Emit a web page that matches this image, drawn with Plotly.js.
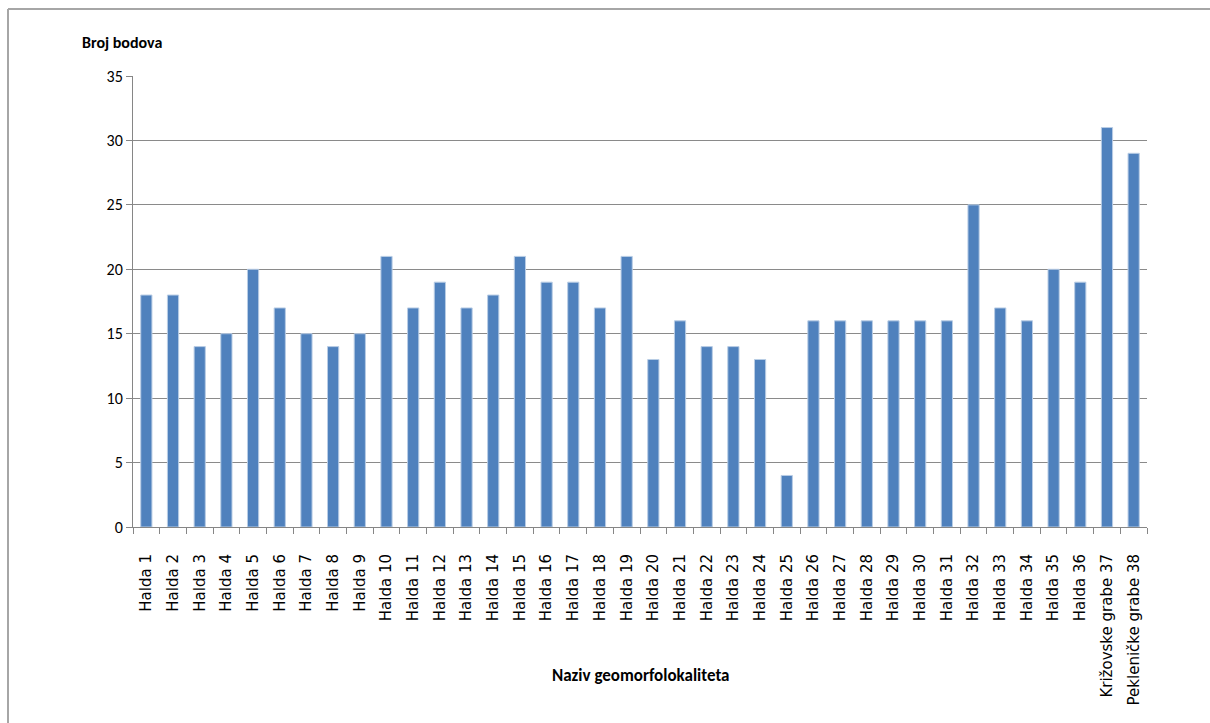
<!DOCTYPE html>
<html>
<head>
<meta charset="utf-8">
<script src="https://cdn.plot.ly/plotly-3.0.1.min.js"></script>
<style>html,body{margin:0;padding:0;background:#fff}#chart{width:1210px;height:723px}</style>
</head>
<body>
<div id="chart"></div>
<script>
const categories = ["Halda 1","Halda 2","Halda 3","Halda 4","Halda 5","Halda 6","Halda 7","Halda 8","Halda 9","Halda 10",
"Halda 11","Halda 12","Halda 13","Halda 14","Halda 15","Halda 16","Halda 17","Halda 18","Halda 19","Halda 20",
"Halda 21","Halda 22","Halda 23","Halda 24","Halda 25","Halda 26","Halda 27","Halda 28","Halda 29","Halda 30",
"Halda 31","Halda 32","Halda 33","Halda 34","Halda 35","Halda 36","Križovske grabe 37","Pekleničke grabe 38"];
const values = [18,18,14,15,20,17,15,14,15,21,17,19,17,18,21,19,19,17,21,13,16,14,14,13,4,16,16,16,16,16,16,25,17,16,20,19,31,29];
const yTitle = "Broj bodova";
const xTitle = "Naziv geomorfolokaliteta";

const L=133, R=63, T=76, B=196, W=1210, H=723;
const pw = W-L-R, ph = H-T-B;
const px = v => (v-L)/pw;
const py = v => (H-B-v)/ph;

Plotly.newPlot('chart', [{
  type:'bar', x:categories, y:values,
  marker:{color:'#4F81BD', line:{color:'#B9CDE5', width:1}},
  hoverinfo:'x+y'
}], {
  width:W, height:H,
  margin:{l:L, r:R, t:T, b:B, pad:0},
  paper_bgcolor:'#fff', plot_bgcolor:'#fff',
  bargap:0.58,
  showlegend:false,
  xaxis:{
    type:'category', tickangle:-90, tickson:'boundaries',
    ticks:'outside', ticklen:6, tickcolor:'#868686',
    showline:true, linecolor:'#868686', linewidth:1,
    showgrid:false, zeroline:false,
    ticklabelstandoff:20,
    tickfont:{family:'DejaVu Sans, Verdana, sans-serif', size:15, color:'#000'},
    automargin:false
  },
  yaxis:{
    range:[0,35], dtick:5, tick0:0,
    ticks:'outside', ticklen:6, tickcolor:'#868686',
    showline:true, linecolor:'#868686', linewidth:1,
    showgrid:true, gridcolor:'#8a8a8a', gridwidth:1,
    zeroline:false,
    tickfont:{family:'Carlito, Liberation Sans Narrow, Liberation Sans, sans-serif', size:16, color:'#000'},
    automargin:false
  },
  annotations:[
    {text:'<b>'+yTitle+'</b>', xref:'paper', yref:'paper', x:px(122), y:py(43), xanchor:'center', yanchor:'middle', showarrow:false,
     font:{family:'Carlito, Liberation Sans Narrow, Liberation Sans, sans-serif', size:16, color:'#000'}},
    {text:'<b>'+xTitle+'</b>', xref:'paper', yref:'paper', x:px(641), y:py(675), xanchor:'center', yanchor:'middle', showarrow:false,
     font:{family:'Carlito, Liberation Sans Narrow, Liberation Sans, sans-serif', size:17, color:'#000'}}
  ],
  shapes:[
    {type:'line', xref:'paper', yref:'paper', x0:px(8), x1:px(8), y0:py(9), y1:py(724), line:{color:'#A6A6A6', width:2}},
    {type:'line', xref:'paper', yref:'paper', x0:px(8), x1:px(1211), y0:py(9), y1:py(9), line:{color:'#A6A6A6', width:2}}
  ]
}, {staticPlot:true});
</script>
</body>
</html>
